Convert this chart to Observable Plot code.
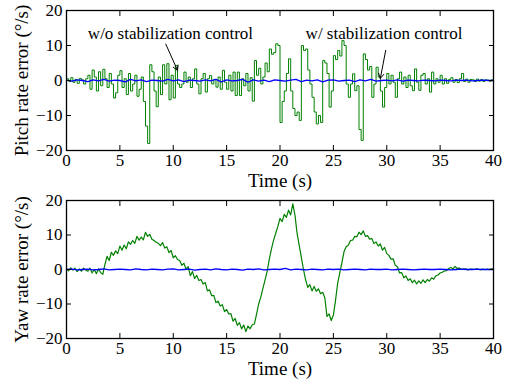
<!DOCTYPE html>
<html>
<head>
<meta charset="utf-8">
<script src="https://cdn.jsdelivr.net/npm/d3@7"></script>
<script src="https://cdn.jsdelivr.net/npm/@observablehq/plot@0.6"></script>
<style>
  html, body { margin: 0; padding: 0; background: #fff; }
  #chart svg { display: block; }
</style>
</head>
<body>
<div id="chart"></div>
<script>
// ---- data ----
const sampleStep = 0.2; // seconds between green samples
const blueStep = 0.5;   // seconds between blue samples

const xTicks = [0, 5, 10, 15, 20, 25, 30, 35, 40];
const yTicks = [-20, -10, 0, 10, 20];

const pitchLabel = "Pitch rate error (\u00b0/s)";
const yawLabel = "Yaw rate error (\u00b0/s)";
const timeLabel = "Time (s)";
const annoTexts = ["w/o stabilization control", "w/ stabilization control"];
const annoX = [2.0, 22.4];
const annoY = [13.5, 13.5];
const arrowX1 = [9.3, 29.9];
const arrowY1 = [10.4, 8.6];
const arrowX2 = [10.4, 29.4];
const arrowY2 = [2.9, 0.6];

// pitch rate error without stabilization (green), every 0.2 s
const pitchGreen = [
  0.5, -0.3, 0.8, -0.5, 0.3, -0.8, 0.6, 0.2, -1.0, 0.5,
  1.5, -2.5, 3.0, 1.0, -3.0, 2.5, -1.5, 3.2, 0.5, -2.0,
  2.0, -1.0, -5.0, -3.5, 1.5, 2.8, -2.0, 0.5, -4.0, 2.0,
  -3.0, -1.0, 1.5, -4.5, -2.5, 1.0, -6.0, -13.0, -18.0, 4.5,
  2.5, -3.0, -7.5, 1.0, -4.0, 4.5, -1.0, 4.8, -5.5, 1.5,
  -5.0, 4.3, -1.0, -2.0, -1.0, 2.4, -0.5, 1.0, -2.0, 0.5,
  3.3, -1.0, -3.8, 0.5, 2.0, -3.3, 0.5, 1.4, -1.0, 0.3,
  -1.9, 1.0, -2.5, 2.9, -0.5, -2.5, 1.5, -3.0, 2.4, -4.3,
  2.4, -4.3, 0.5, -1.5, 2.0, -3.0, 0.8, -5.9, 5.7, 1.5,
  3.5, -1.0, 1.0, 5.0, 2.5, 9.0, 7.5, 8.0, 10.5, 10.0,
  -12.0, -6.0, -3.0, 2.0, 6.2, -3.0, -8.0, -10.0, -9.0, -11.4,
  10.0, 8.6, 9.0, 3.0, -1.0, -4.8, -9.0, -12.4, -10.0, -12.0,
  5.7, 5.0, 2.0, -7.6, -3.0, 7.1, 6.0, 8.6, 7.0, 11.4,
  10.0, -1.0, -4.8, -1.0, 1.9, -2.9, -1.5, -14.0, -17.1, 7.6,
  6.0, 3.0, 4.0, -4.8, -1.0, 3.8, 1.0, -3.0, -7.6, -2.0,
  2.0, -1.0, 1.5, -0.5, -4.8, 0.5, 2.4, -1.0, 1.0, -2.0,
  1.5, -1.5, -2.9, 3.3, -0.5, -2.8, 1.5, 2.0, -1.0, 0.5,
  -3.3, 2.4, -1.0, 0.5, -0.5, 1.5, -1.0, 0.5, -0.8, 0.3,
  0.8, -0.5, 0.3, -0.6, 0.5, 2.0, -0.3, 0.4, -0.5, 0.3,
  0.2, -0.3, 0.4, -0.2, 0.3, -0.3, 0.2, 0.1, -0.2, 0.2, 0.1
];

// pitch rate error with stabilization (blue), every 0.5 s
const pitchBlue = [
  0.1, -0.2, 0.2, 0.0, -0.3, 0.2, -0.1, 0.3, -0.2, 0.1,
  0.0, -0.4, 0.3, -0.1, 0.2, -0.3, 0.1, 0.0, -0.2, 0.3,
  -0.1, 0.2, -0.3, 0.1, 0.0, -0.2, 0.2, -0.1, 0.3, -0.4,
  0.2, -0.1, 0.0, 0.3, -0.5, 0.2, -0.2, 0.1, -0.3, 0.2,
  0.0, -0.2, 0.1, 0.3, -0.3, 0.1, -0.1, 0.2, -0.4, 0.1,
  0.2, -0.2, 0.0, 0.1, -0.3, 0.2, -0.1, 0.3, -0.2, 0.0,
  0.1, -0.1, 0.2, -0.2, 0.1, 0.0, -0.1, 0.1, 0.0, -0.1,
  0.1, 0.0, -0.1, 0.1, 0.0, 0.1, -0.1, 0.0, 0.1, 0.0, 0.0
];

// yaw rate error without stabilization (green), every 0.2 s
const yawGreen = [
  0.3, -0.4, 0.5, -0.2, 0.4, -0.6, 0.2, -0.5, 0.4, -0.2,
  -0.5, 0.4, -1.0, 0.0, -1.2, 0.2, -0.9, -1.4, 1.5, 3.8,
  2.6, 5.0, 4.1, 5.4, 4.6, 6.8, 5.6, 7.1, 6.0, 8.0,
  7.3, 8.4, 7.6, 9.6, 8.5, 9.4, 8.6, 10.8, 9.6, 10.2,
  8.8, 8.4, 7.9, 7.6, 6.9, 7.8, 6.2, 6.6, 4.9, 5.5,
  3.4, 4.0, 2.9, 2.6, 1.2, 1.8, 0.1, 0.8, -1.8, -0.6,
  -2.6, -1.7, -3.2, -2.9, -4.2, -3.8, -6.2, -5.9, -7.6, -7.5,
  -9.6, -9.2, -10.6, -10.2, -12.2, -11.6, -12.9, -12.8, -15.0, -14.2,
  -16.2, -15.4, -17.2, -16.1, -18.0, -16.4, -17.2, -16.0, -15.8, -13.0,
  -10.0, -8.0, -5.5, -3.0, -0.5, 3.0, 6.0, 8.5, 10.5, 12.5,
  14.8, 13.9, 16.0, 15.1, 17.2, 15.8, 19.0, 15.8, 10.5, 7.0,
  3.5, 0.0, -3.0, -5.2, -4.4, -6.2, -4.9, -6.3, -5.6, -7.0,
  -6.6, -8.2, -13.6, -12.9, -14.8, -13.2, -9.0, -4.0, -1.0, 2.0,
  5.2, 6.6, 7.0, 8.4, 8.5, 9.6, 9.5, 10.8, 10.1, 11.2,
  9.6, 9.8, 8.8, 9.0, 7.5, 8.0, 6.8, 7.4, 5.6, 6.4,
  4.6, 4.1, 3.0, 3.1, 1.2, 0.8, -1.0, -0.9, -2.4, -1.9,
  -3.2, -2.7, -3.8, -3.1, -4.2, -3.3, -4.0, -3.0, -3.8, -2.9,
  -3.4, -2.4, -2.8, -1.8, -1.6, -1.0, -0.8, -0.4, -0.3, 0.3,
  0.6, 0.2, 0.9, 0.3, 0.4, 0.0, 0.1, 0.2, -0.1, 0.1,
  0.1, 0.0, 0.2, 0.0, -0.1, 0.1, 0.0, 0.1, 0.0, 0.2, 0.1
];

// yaw rate error with stabilization (blue), every 0.5 s
const yawBlue = [
  0.0, 0.1, -0.1, 0.0, 0.1, -0.1, 0.0, 0.2, -0.1, 0.0,
  0.1, 0.0, -0.1, 0.2, 0.0, -0.1, 0.1, 0.0, -0.1, 0.1,
  0.2, -0.1, 0.0, 0.1, -0.2, 0.0, 0.1, -0.1, 0.2, 0.0,
  -0.1, 0.1, 0.0, -0.2, 0.1, 0.0, 0.2, -0.1, 0.0, 0.1,
  0.0, 0.3, -0.1, 0.1, 0.0, -0.1, 0.1, 0.0, -0.1, 0.1,
  0.0, 0.1, -0.1, 0.0, 0.1, 0.0, -0.1, 0.1, 0.0, 0.0,
  0.1, -0.1, 0.0, 0.1, 0.0, -0.1, 0.0, 0.1, 0.0, 0.0,
  0.1, 0.0, -0.1, 0.0, 0.1, 0.0, 0.0, 0.1, 0.0, 0.0, 0.0
];

// ---- build tables ----
const toRows = (arr, step) => arr.map((v, i) => ({t: +(i * step).toFixed(3), v}));
const pitchG = toRows(pitchGreen, sampleStep);
const pitchB = toRows(pitchBlue, blueStep);
const yawG = toRows(yawGreen, sampleStep);
const yawB = toRows(yawBlue, blueStep);

const FONT = "'Liberation Serif', 'Times New Roman', 'DejaVu Serif', serif";
const GREEN = "#008000";
const BLUE = "#0000ff";

function panel({green, blue, greenCurve, greenWidth, ylabel, height, marginTop, marginBottom, extra = []}) {
  return Plot.plot({
    width: 510,
    height,
    marginTop,
    marginBottom,
    marginLeft: 66,
    marginRight: 17,
    style: {fontFamily: FONT, fontSize: "17px", background: "#fff", color: "#000", overflow: "visible"},
    x: {domain: [0, 40]},
    y: {domain: [-20, 20]},
    marks: [
      Plot.line(green, {x: "t", y: "v", stroke: GREEN, strokeWidth: greenWidth, curve: greenCurve}),
      Plot.line(blue, {x: "t", y: "v", stroke: BLUE, strokeWidth: 1.3}),
      ...extra,
      Plot.frame({stroke: "#000", strokeWidth: 1.3}),
      Plot.axisX(xTicks, {anchor: "bottom", tickSize: 0, tickPadding: 3, fontSize: 17, label: null}),
      Plot.axisX(xTicks, {anchor: "bottom", tickSize: -5, tickFormat: () => "", label: null}),
      Plot.axisX(xTicks, {anchor: "top", tickSize: -5, tickFormat: () => "", label: null}),
      Plot.axisY(yTicks, {anchor: "left", tickSize: 0, tickPadding: 4, fontSize: 17, label: null}),
      Plot.axisY(yTicks, {anchor: "left", tickSize: -5, tickFormat: () => "", label: null}),
      Plot.axisY(yTicks, {anchor: "right", tickSize: -5, tickFormat: () => "", label: null}),
      Plot.text([ylabel], {frameAnchor: "left", textAnchor: "middle", lineAnchor: "middle", rotate: -90, dx: -45, fontSize: 19, fill: "#000"}),
      Plot.text([timeLabel], {frameAnchor: "bottom", textAnchor: "middle", lineAnchor: "middle", dy: 30, fontSize: 19, fill: "#000"})
    ]
  });
}

const annoRows = annoTexts.map((s, i) => ({s, x: annoX[i], y: annoY[i]}));
const arrowRows = arrowX1.map((x1, i) => ({x1, y1: arrowY1[i], x2: arrowX2[i], y2: arrowY2[i]}));

const topPanel = panel({
  green: pitchG, blue: pitchB, greenCurve: "step-after", greenWidth: 1, ylabel: pitchLabel,
  height: 190, marginTop: 10, marginBottom: 40,
  extra: [
    Plot.text(annoRows, {x: "x", y: "y", text: "s", textAnchor: "start", fontSize: 17, fill: "#000"}),
    Plot.arrow(arrowRows, {x1: "x1", y1: "y1", x2: "x2", y2: "y2", stroke: "#000", strokeWidth: 1, headLength: 8})
  ]
});
const bottomPanel = panel({
  green: yawG, blue: yawB, greenCurve: "linear", greenWidth: 1.2, ylabel: yawLabel,
  height: 195, marginTop: 10, marginBottom: 47
});

document.getElementById("chart").append(topPanel, bottomPanel);
</script>
</body>
</html>
